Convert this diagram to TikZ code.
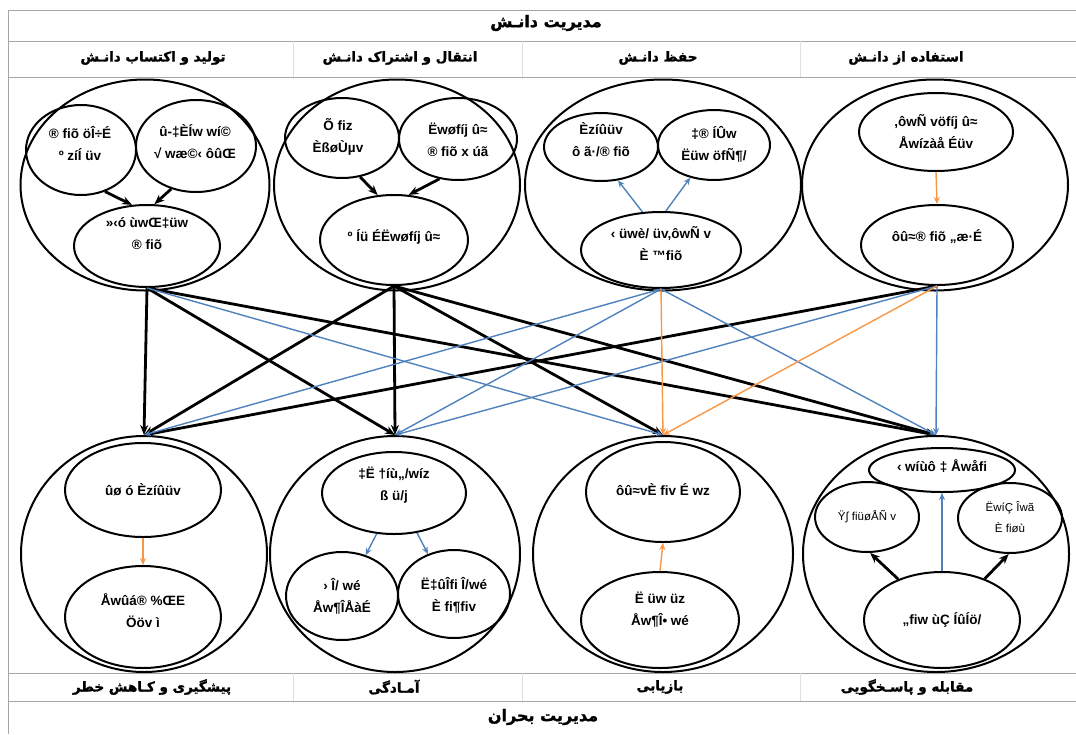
\documentclass[tikz,border=0pt]{standalone}
\usepackage{fontspec}
\setmainfont{Liberation Sans}
\newfontfamily\fa[Script=Arabic,FakeBold=1.6]{DejaVu Sans Bold}
\TeXXeTstate=1
\usetikzlibrary{shapes.geometric,arrows.meta}
\definecolor{blueline}{HTML}{4F81BD}
\definecolor{orangeline}{HTML}{F79646}
\tikzset{
  outer/.style={draw, ellipse, line width=2pt, inner sep=0pt},
  inner/.style={draw, ellipse, line width=2pt, inner sep=0pt},
  txt/.style={align=center, inner sep=0pt, font=\bfseries\fontsize{13.5}{22}\selectfont},
  thintxt/.style={align=center, inner sep=0pt, font=\fontsize{11.5}{21}\selectfont},
  fatxt/.style={font=\fa\fontsize{13.5}{16}\selectfont},
  fatitle/.style={font=\fa\fontsize{16}{18}\selectfont},
  grid/.style={draw=gray!70, line width=0.9pt},
  colsep/.style={draw=gray!25, line width=0.7pt},
  blk/.style={-{Stealth[length=10pt,width=8pt]}, line width=2.8pt},
  blu/.style={-{Stealth[length=7pt,width=6pt]}, line width=1.4pt, draw=blueline},
  org/.style={-{Stealth[length=7pt,width=6pt]}, line width=1.4pt, draw=orangeline},
}
\begin{document}
\begin{tikzpicture}[x=1pt,y=-1pt]
    \useasboundingbox (0,0) rectangle (1076,734);
    \draw[grid] (8,10) -- (1076,10);
    \draw[grid] (8,41) -- (1076,41);
    \draw[grid] (8,77) -- (1076,77);
    \draw[grid] (8,673) -- (1076,673);
    \draw[grid] (8,701) -- (1076,701);
    \draw[grid] (8,10) -- (8,734);
    \foreach \x in {293,522,800} {
      \draw[colsep] (\x,41) -- (\x,77);
      \draw[colsep] (\x,673) -- (\x,701);
    }

    \node[fatitle] (title) at (546,23) {\beginR مدیریت دانـش\endR};
    \node[fatxt] (h1) at (153,58) {\beginR تولید و اکتساب دانـش\endR};
    \node[fatxt] (h2) at (400,58) {\beginR انتقال و اشتراک دانـش\endR};
    \node[fatxt] (h3) at (658,58) {\beginR حفظ دانـش\endR};
    \node[fatxt] (h4) at (906,58) {\beginR استفاده از دانـش\endR};
    \node[fatxt] (f1) at (152,687) {\beginR پیشگیری و کـاهش خطر\endR};
    \node[fatxt] (f2) at (394,687) {\beginR آمـادگی\endR};
    \node[fatxt] (f3) at (660,687) {\beginR بازیابی\endR};
    \node[fatxt] (f4) at (907,687) {\beginR مقابله و پاسـخگویی\endR};
    \node[fatitle] (crisis) at (543,717) {\beginR مدیریت بحران\endR};

    \node[outer, minimum width=249pt, minimum height=211pt] (know1) at (145,185) {};
    \node[inner, minimum width=110pt, minimum height=90pt] (k1a) at (81,150) {};
    \node[txt] (k1a-t) at (80,144) {® fiõ öÎ÷É\\º zíÍ üv};
    \node[inner, minimum width=120pt, minimum height=92pt] (k1b) at (196,146) {};
    \node[txt] (k1b-t) at (195,142) {û-‡ÈÍw wí©\\√ wæ©‹ ôûŒ};
    \node[inner, minimum width=146pt, minimum height=82pt] (src1) at (147,246) {};
    \node[txt] (src1-t) at (147,234) {»‹ó ùwŒ‡üw\\® fiõ};

    \node[outer, minimum width=246pt, minimum height=211pt] (know2) at (397,185) {};
    \node[inner, minimum width=114pt, minimum height=80pt] (k2a) at (342,138) {};
    \node[txt] (k2a-t) at (338,137) {Õ fiz\\ÈßøÙµv};
    \node[inner, minimum width=118pt, minimum height=82pt] (k2b) at (458,139) {};
    \node[txt] (k2b-t) at (458,140) {Ëwøfíj û≈\\® fiõ x úã};
    \node[inner, minimum width=148pt, minimum height=90pt] (src2) at (394,240) {};
    \node[txt] (src2-t) at (394,237) {º Íü ÉËwøfíj û≈};

    \node[outer, minimum width=276pt, minimum height=211pt] (know3) at (663,185) {};
    \node[inner, minimum width=114pt, minimum height=68pt] (k3a) at (601,147) {};
    \node[txt] (k3a-t) at (601,140) {Èzíûüv\\ô ã·/® fiõ};
    \node[inner, minimum width=112pt, minimum height=70pt] (k3b) at (714,145) {};
    \node[txt] (k3b-t) at (714,144) {‡® ÍÛw\\Ëüw öfÑ¶/};
    \node[inner, minimum width=160pt, minimum height=76pt] (src3) at (661,250) {};
    \node[txt] (src3-t) at (661,244) {‹ üwè/ üv,ôwÑ v\\È ™fiõ};

    \node[outer, minimum width=266pt, minimum height=211pt] (know4) at (935,185) {};
    \node[inner, minimum width=154pt, minimum height=78pt] (k4a) at (936,132) {};
    \node[txt] (k4a-t) at (936,132) {,ôwÑ vöfíj û≈\\Åwízàå Éüv};
    \node[inner, minimum width=152pt, minimum height=80pt] (src4) at (937,245) {};
    \node[txt] (src4-t) at (937,237) {ôû≈® fiõ „æ·É};

    \node[outer, minimum width=246pt, minimum height=236pt] (cris1) at (144,554) {};
    \node[inner, minimum width=156pt, minimum height=94pt] (k5a) at (143,490) {};
    \node[txt] (k5a-t) at (143,490) {ûø ó Èzíûüv};
    \node[inner, minimum width=156pt, minimum height=102pt] (k5b) at (143,617) {};
    \node[txt] (k5b-t) at (143,611) {Åwûá® \%ŒE\\Ööv ì};

    \node[outer, minimum width=250pt, minimum height=236pt] (cris2) at (395,554) {};
    \node[inner, minimum width=144pt, minimum height=82pt] (k6a) at (394,493) {};
    \node[txt] (k6a-t) at (394,485) {‡Ë †íù„/wíz\\ß ü/j};
    \node[inner, minimum width=112pt, minimum height=88pt] (k6b) at (342,596) {};
    \node[txt] (k6b-t) at (342,596) {› Î/ wé\\Åw¶ÎÅàÉ};
    \node[inner, minimum width=112pt, minimum height=88pt] (k6c) at (454,594) {};
    \node[txt] (k6c-t) at (454,595) {Ë‡ûÎfi Î/wé\\È fi¶fiv};

    \node[outer, minimum width=260pt, minimum height=236pt] (cris3) at (663,554) {};
    \node[inner, minimum width=154pt, minimum height=100pt] (k7a) at (663,492) {};
    \node[txt] (k7a-t) at (663,490) {ôû≈vÈ fiv É wz};
    \node[inner, minimum width=158pt, minimum height=96pt] (k7b) at (660,620) {};
    \node[txt] (k7b-t) at (660,610) {Ë üw üz\\Åw¶Î• wé};

    \node[outer, minimum width=266pt, minimum height=236pt] (cris4) at (936,554) {};
    \node[inner, minimum width=146pt, minimum height=44pt] (k8a) at (942,470) {};
    \node[txt] (k8a-t) at (942,466) {‹ wíùô ‡ Åwåfi};
    \node[inner, minimum width=104pt, minimum height=70pt] (k8b) at (867,517) {};
    \node[thintxt] (k8b-t) at (867,517) {Ÿ∫ fiüøÅÑ v};
    \node[inner, minimum width=104pt, minimum height=70pt] (k8c) at (1010,518) {};
    \node[thintxt] (k8c-t) at (1010,517) {ËwíÇ Îwã\\È fiøù};
    \node[inner, minimum width=156pt, minimum height=96pt] (k8d) at (942,620) {};
    \node[txt] (k8d-t) at (942,620) {„fiw ùÇ ÍûÍö/};

    \draw[blk] (k1a.-60) -- (src1.110);
    \draw[blk] (k1b.-120) -- (src1.80);
    \draw[blk] (k2a.-65) -- (src2.110);
    \draw[blk] (k2b.-115) -- (src2.72);
    \draw[blu] (src3.116) -- (k3a.-63);
    \draw[blu] (src3.83) -- (k3b.-126);
    \draw[org] (k4a.south) -- (src4.north);
    \draw[org] (k5a.south) -- (k5b.north);
    \draw[blu] (k6a.-113) -- (k6b.60);
    \draw[blu] (k6a.-60) -- (k6c.123);
    \draw[org] (k7b.north) -- (k7a.south);
    \draw[blu] (k8d.north) -- (k8a.south);
    \draw[blk] (k8d.137) -- (k8b.-85);
    \draw[blk] (k8d.44) -- (k8c.-92);

    \foreach \s/\t in {1/1,1/2,1/4,2/1,2/2,2/3,2/4,4/1}
      \draw[blk] (src\s.south) -- (cris\t.north);
    \foreach \s/\t in {1/3,3/1,3/2,3/4,4/2,4/4}
      \draw[blu] (src\s.south) -- (cris\t.north);
    \foreach \s/\t in {3/3,4/3}
      \draw[org] (src\s.south) -- (cris\t.north);
\end{tikzpicture}
\end{document}
